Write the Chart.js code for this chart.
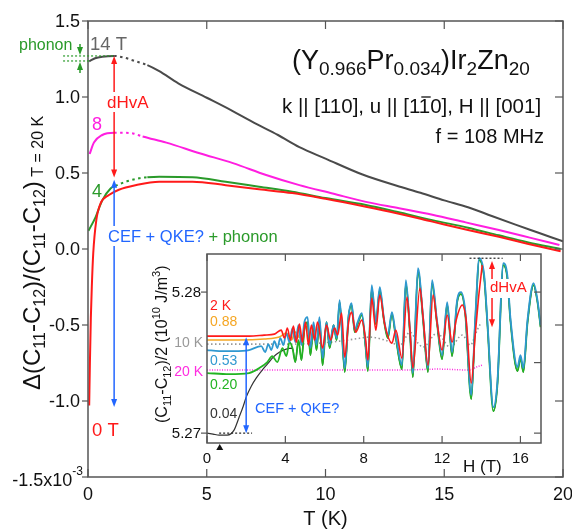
<!DOCTYPE html>
<html>
<head>
<meta charset="utf-8">
<script src="https://cdn.jsdelivr.net/npm/chart.js@4.4.0/dist/chart.umd.min.js"></script>
<style>
  html, body { margin: 0; padding: 0; background: #fff; }
  #wrap { position: relative; width: 572px; height: 531px; }
  #main { position: absolute; left: 0; top: 0; }
  #inset { position: absolute; left: 140px; top: 244px; }
</style>
</head>
<body>
<div id="wrap">
  <canvas id="main" width="572" height="531"></canvas>
  <canvas id="inset" width="420" height="232"></canvas>
</div>
<script>
const FONT = '"Liberation Sans", Arial, sans-serif';
const AXIS = '#555';

// ---- main panel: T (K) vs Delta(C11-C12)/(C11-C12), units 1e-3
const mainXTicks = [0, 5, 10, 15, 20];
const mainYTicks = [-1.5, -1.0, -0.5, 0.0, 0.5, 1.0, 1.5];
const mainYLabels = ['', '-1.0', '-0.5', '0.0', '0.5', '1.0', '1.5']; // -1.5 gets the x10^-3 label

const t0T = [0.05, 0.08, 0.12, 0.16, 0.22, 0.35, 0.53, 0.88, 1.3, 2.0, 3.0, 4.4, 5.8, 7.2, 8.6, 10, 11.7, 13, 14.5, 16, 17.3, 18.5, 19.9];
const v0T = [-1.03, -0.75, -0.45, -0.25, -0.03, 0.19, 0.30, 0.355, 0.39, 0.42, 0.443, 0.443, 0.42, 0.393, 0.368, 0.33, 0.278, 0.235, 0.18, 0.125, 0.08, 0.035, -0.015];

const t4T = [0.02, 0.32, 0.6, 0.96, 1.15, 1.6, 2.15, 2.5, 3.0, 4.4, 5.8, 7.2, 8.6, 10, 11.7, 13, 14.5, 16, 17.3, 18.5, 19.9];
const v4T = [0.12, 0.21, 0.32, 0.40, 0.415, 0.443, 0.465, 0.472, 0.476, 0.472, 0.443, 0.41, 0.377, 0.335, 0.29, 0.245, 0.19, 0.14, 0.09, 0.045, 0.0];

const t8T = [0.07, 0.25, 0.6, 1.1, 1.5, 1.9, 2.3, 3.3, 4.7, 6.1, 7.5, 8.9, 10.3, 11.7, 13.1, 14.5, 15.9, 17.3, 18.6, 19.85];
const v8T = [0.625, 0.70, 0.75, 0.765, 0.765, 0.76, 0.74, 0.70, 0.63, 0.565, 0.487, 0.42, 0.365, 0.31, 0.268, 0.225, 0.175, 0.125, 0.075, 0.026];

const t14T = [0.05, 0.3, 0.6, 1.1, 1.5, 2.0, 2.5, 3.0, 3.8, 5, 6, 7, 8, 8.9, 10, 11.56, 13, 14, 15, 16, 17, 18, 19, 20];
const v14T = [1.235, 1.255, 1.265, 1.27, 1.26, 1.235, 1.21, 1.17, 1.09, 0.995, 0.915, 0.83, 0.75, 0.67, 0.595, 0.49, 0.416, 0.37, 0.32, 0.275, 0.217, 0.16, 0.105, 0.05];

// ---- inset: H (T) vs (C11-C12)/2 (1e10 J/m^3)
const insetXTicks = [0, 4, 8, 12, 16];
const insetYTicks = [5.27, 5.275, 5.28];
const insetYLabels = ['5.27', '', '5.28'];

// 2 K
const h2K = [0, 1.13, 2.15, 2.92, 3.44, 3.79, 3.95, 4.10, 4.26, 4.41, 4.56, 4.72, 4.87, 5.03, 5.18, 5.33, 5.49, 5.64, 5.9, 6.1, 6.31, 6.51, 6.67, 6.87, 7.03, 7.23, 7.38, 7.59, 7.9, 8.1, 8.21, 8.41, 8.62, 8.82, 9.08, 9.44, 9.64, 9.95, 10.21, 10.36, 10.51, 10.87, 11.03, 11.28, 11.54, 11.74, 12.0, 12.26, 12.51, 12.72, 13.03, 13.23, 13.49, 13.69, 13.85, 14.05];
const c2K = [5.27688, 5.27688, 5.27688, 5.27695, 5.27702, 5.27730, 5.27674, 5.27745, 5.27660, 5.27759, 5.27645, 5.27773, 5.27645, 5.27787, 5.27624, 5.27766, 5.27660, 5.27787, 5.27603, 5.27766, 5.27660, 5.27745, 5.27695, 5.27851, 5.27539, 5.27787, 5.27858, 5.27716, 5.27801, 5.27660, 5.27518, 5.27957, 5.27730, 5.27979, 5.27766, 5.27638, 5.27730, 5.27532, 5.27965, 5.27730, 5.27461, 5.28028, 5.27823, 5.27482, 5.27979, 5.27787, 5.27589, 5.27837, 5.27645, 5.27801, 5.27908, 5.27801, 5.27355, 5.27695, 5.27943, 5.28191];

// 0.88 K (low field only, hidden under the others above ~5 T)
const h088 = [0, 1.64, 2.92, 3.69, 4.05, 4.31, 4.51, 4.72];
const c088 = [5.27660, 5.27660, 5.27667, 5.27681, 5.27709, 5.27660, 5.27716, 5.27674];

// 10 K
const h10K = [0, 2.15, 4.21, 5.74, 6.77, 7.54, 8.31, 9.08, 9.85, 10.36, 10.77, 11.03, 11.74, 12.41, 13.03, 13.44, 13.79, 14.0];
const c10K = [5.27631, 5.27631, 5.27631, 5.27638, 5.27652, 5.27667, 5.27681, 5.27660, 5.27624, 5.27716, 5.27638, 5.27610, 5.27709, 5.27610, 5.27695, 5.27624, 5.27730, 5.27787];

// 20 K
const h20K = [0, 4.6, 9.85, 11.8, 13.44, 13.74, 14.05];
const c20K = [5.27447, 5.27447, 5.27447, 5.27454, 5.27447, 5.27468, 5.27482];

// low-field parts of the coldest curves
const h053Low = [0, 0.62, 1.38, 2.15, 2.77, 2.97, 3.13, 3.28, 3.44, 3.59, 3.74, 3.9, 4.05, 4.21];
const c053Low = [5.27589, 5.27582, 5.27582, 5.27589, 5.27617, 5.27574, 5.27631, 5.27589, 5.27652, 5.27603, 5.27674, 5.27624, 5.27709, 5.27645];
const h020Low = [0, 1.13, 2.15, 2.67, 3.08, 3.33, 3.59, 3.85, 4.05, 4.21];
const c020Low = [5.27426, 5.27418, 5.27426, 5.27461, 5.27504, 5.27546, 5.27504, 5.27603, 5.27546, 5.27645];
const h004Low = [0, 0.31, 0.62, 1.03, 1.38, 1.64, 1.85, 2.0, 2.26, 2.51, 2.82, 3.08, 3.38, 3.69];
const c004Low = [5.27000, 5.26993, 5.26986, 5.26986, 5.27021, 5.27113, 5.27191, 5.27255, 5.27333, 5.27390, 5.27447, 5.27489, 5.27539, 5.27574];

// high-field dHvA part shared by 0.53, 0.20, 0.04 K
const hHigh = [4.36, 4.51, 4.67, 4.82, 4.97, 5.13, 5.28, 5.44, 5.59, 5.74, 5.9, 6.1, 6.26, 6.46, 6.62, 6.77, 7.03, 7.23, 7.38, 7.54, 7.69, 7.9, 8.1, 8.21, 8.41, 8.62, 8.82, 9.03, 9.23, 9.44, 9.64, 9.95, 10.15, 10.36, 10.51, 10.77, 11.03, 11.28, 11.49, 11.74, 12.0, 12.26, 12.51, 12.77, 12.97, 13.18, 13.49, 13.69, 13.9, 14.15, 14.31, 14.62, 14.82, 15.13, 15.33, 15.49, 15.85, 16.0, 16.15, 16.36, 16.67, 16.87, 17.03];
const c053High = [5.27745, 5.27645, 5.27766, 5.27624, 5.27787, 5.27823, 5.27603, 5.27787, 5.27624, 5.27823, 5.27532, 5.27787, 5.27624, 5.27766, 5.27674, 5.27943, 5.27461, 5.27837, 5.27922, 5.27730, 5.27787, 5.27851, 5.27624, 5.27468, 5.28050, 5.27787, 5.28035, 5.27816, 5.27695, 5.27858, 5.27695, 5.27482, 5.28085, 5.27730, 5.27426, 5.28170, 5.27823, 5.27461, 5.28085, 5.27801, 5.27553, 5.27929, 5.27574, 5.27943, 5.28000, 5.27872, 5.27270, 5.27801, 5.28241, 5.28121, 5.27801, 5.27184, 5.27355, 5.28206, 5.28121, 5.27816, 5.27468, 5.27553, 5.27461, 5.27801, 5.28064, 5.27943, 5.27766];
const c020High = [5.27603, 5.27504, 5.27660, 5.27518, 5.27730, 5.27787, 5.27553, 5.27766, 5.27589, 5.27801, 5.27482, 5.27787, 5.27603, 5.27766, 5.27660, 5.27929, 5.27433, 5.27830, 5.27908, 5.27716, 5.27773, 5.27837, 5.27603, 5.27440, 5.28028, 5.27773, 5.28014, 5.27801, 5.27674, 5.27844, 5.27674, 5.27454, 5.28064, 5.27709, 5.27397, 5.28149, 5.27801, 5.27433, 5.28064, 5.27780, 5.27525, 5.27915, 5.27546, 5.27929, 5.27986, 5.27851, 5.27241, 5.27780, 5.28227, 5.28099, 5.27780, 5.27156, 5.27333, 5.28191, 5.28099, 5.27794, 5.27440, 5.27532, 5.27433, 5.27780, 5.28050, 5.27929, 5.27752];

function pts(xs, ys) { return xs.map((x, i) => ({ x: x, y: ys[i] })); }

function dottedBetween(a, b, dash) {
  return { borderDash: ctx => (ctx.p0.parsed.x >= a - 1e-9 && ctx.p1.parsed.x <= b + 1e-9) ? dash : undefined };
}

function seg(ctx, x1, y1, x2, y2) {
  ctx.beginPath(); ctx.moveTo(x1, y1); ctx.lineTo(x2, y2); ctx.stroke();
}

// tip at (x, y); dir -1 points up, +1 points down
function head(ctx, x, y, dir, color) {
  ctx.fillStyle = color;
  ctx.beginPath();
  ctx.moveTo(x, y);
  ctx.lineTo(x - 3, y - dir * 8);
  ctx.lineTo(x + 3, y - dir * 8);
  ctx.closePath();
  ctx.fill();
}

function vArrow(ctx, x, yTop, yBot, color, up, down) {
  ctx.strokeStyle = color; ctx.lineWidth = 1.5; ctx.setLineDash([]);
  seg(ctx, x, yTop + (up ? 4 : 0), x, yBot - (down ? 4 : 0));
  if (up) head(ctx, x, yTop, -1, color);
  if (down) head(ctx, x, yBot, 1, color);
}

// parts: [text, size, dy, color]
function rich(ctx, parts, x, y, align) {
  let w = 0;
  parts.forEach(p => { ctx.font = p[1] + 'px ' + FONT; w += ctx.measureText(p[0]).width; });
  let cx = align === 'right' ? x - w : (align === 'center' ? x - w / 2 : x);
  ctx.textAlign = 'left'; ctx.textBaseline = 'alphabetic';
  parts.forEach(p => {
    ctx.font = p[1] + 'px ' + FONT;
    if (p[3]) ctx.fillStyle = p[3];
    ctx.fillText(p[0], cx, y + (p[2] || 0));
    cx += ctx.measureText(p[0]).width;
  });
  return w;
}

function text(ctx, s, x, y, size, color, align) {
  ctx.font = size + 'px ' + FONT;
  ctx.fillStyle = color;
  ctx.textAlign = align || 'left';
  ctx.textBaseline = 'alphabetic';
  ctx.fillText(s, x, y);
}

const mainDecor = {
  id: 'mainDecor',
  afterDraw(chart) {
    const { ctx, chartArea: a, scales: { x, y } } = chart;
    const X = v => x.getPixelForValue(v), Y = v => y.getPixelForValue(v);
    ctx.save();

    // frame and ticks
    ctx.strokeStyle = AXIS; ctx.lineWidth = 1.5;
    ctx.strokeRect(a.left, a.top, a.right - a.left, a.bottom - a.top);
    ctx.lineWidth = 1.2;
    mainXTicks.forEach(v => {
      seg(ctx, X(v), a.bottom, X(v), a.bottom - 8);
      seg(ctx, X(v), a.top, X(v), a.top + 8);
    });
    mainYTicks.forEach(v => {
      seg(ctx, a.left - 6, Y(v), a.left, Y(v));
      seg(ctx, a.right, Y(v), a.right - 8, Y(v));
    });

    // tick labels
    ctx.fillStyle = '#111';
    ctx.font = '18px ' + FONT; ctx.textAlign = 'center'; ctx.textBaseline = 'alphabetic';
    mainXTicks.forEach(v => ctx.fillText(String(v), X(v), a.bottom + 23));
    ctx.textAlign = 'right';
    mainYTicks.forEach((v, i) => { if (mainYLabels[i]) ctx.fillText(mainYLabels[i], a.left - 8, Y(v) + 6); });
    ctx.fillStyle = '#111';
    rich(ctx, [['-1.5x10', 18], ['-3', 12, -11]], a.left - 5, Y(-1.5) + 9, 'right');

    // axis titles
    text(ctx, 'T (K)', X(10), 525, 20, '#111', 'center');
    ctx.save();
    ctx.translate(40, 390);
    ctx.rotate(-Math.PI / 2);
    ctx.fillStyle = '#111';
    rich(ctx, [['\u0394(C', 24], ['11', 16, 5], ['-C', 24], ['12', 16, 5], [')/(C', 24], ['11', 16, 5],
               ['-C', 24], ['12', 16, 5], [')', 24], [' T = 20 K', 16, 3]], 0, 0, 'left');
    ctx.restore();

    // phonon marks
    ctx.strokeStyle = '#2a9a2a'; ctx.lineWidth = 1.2; ctx.setLineDash([2, 2]);
    seg(ctx, X(-1.05), Y(1.27), X(1.1), Y(1.27));
    seg(ctx, X(-1.05), Y(1.237), X(0.05), Y(1.237));
    ctx.setLineDash([]);
    vArrow(ctx, 80, 44, Y(1.27) - 1, '#2a9a2a', false, true);
    vArrow(ctx, 80, Y(1.237) + 1, 73, '#2a9a2a', true, false);

    // dHvA and CEF arrows
    vArrow(ctx, X(1.1), Y(1.27), Y(0.47), '#ff1a1a', true, true);
    vArrow(ctx, X(1.1), Y(0.455), Y(-1.04), '#2266ff', true, true);

    // labels
    ctx.fillStyle = '#fff';
    ctx.fillRect(101, 92, 49, 20);
    text(ctx, 'dHvA', 107, 108, 17, '#ff1a1a');
    ctx.fillStyle = '#fff';
    ctx.fillRect(104, 226, 176, 20);
    rich(ctx, [['CEF + QKE?', 16.5, 0, '#2266ff'], [' + phonon', 16.5, 0, '#2a9a2a']], 108, 242, 'left');

    text(ctx, 'phonon', 19, 50, 16, '#2a9a2a');
    text(ctx, '14 T', 90, 50, 18.5, '#666');
    text(ctx, '8', 92, 130, 18, '#ff1ee0');
    text(ctx, '4', 92, 197, 18, '#2a9a2a');
    text(ctx, '0 T', 92, 436, 18.5, '#ff1a1a');

    // sample and geometry
    ctx.fillStyle = '#111';
    rich(ctx, [['(Y', 27], ['0.966', 19, 6], ['Pr', 27], ['0.034', 19, 6], [')Ir', 27], ['2', 19, 6], ['Zn', 27], ['20', 19, 6]], 292, 69, 'left');
    const kLine = 'k || [110], u || [110], H || [001]';
    text(ctx, kLine, 282, 113, 20.5, '#111');
    ctx.font = '20.5px ' + FONT;
    const bx = 282 + ctx.measureText('k || [110], u || [1').width;
    const bw = ctx.measureText('1').width;
    ctx.strokeStyle = '#111'; ctx.lineWidth = 1.3;
    seg(ctx, bx + 1, 97, bx + bw - 1, 97);
    text(ctx, 'f = 108 MHz', 544, 143, 20, '#111', 'right');

    ctx.restore();
  }
};

const mainChart = new Chart(document.getElementById('main'), {
  type: 'scatter',
  data: {
    datasets: [
      { data: pts(t0T, v0T), borderColor: '#ff1a1a' },
      { data: pts(t4T, v4T), borderColor: '#2a9a2a', segment: dottedBetween(1.15, 2.5, [2.5, 3.5]) },
      { data: pts(t8T, v8T), borderColor: '#ff1ee0', segment: dottedBetween(1.1, 2.3, [2.5, 3.5]) },
      { data: pts(t14T, v14T), borderColor: '#4a4a4a', segment: dottedBetween(1.1, 2.5, [2.5, 3.5]) }
    ].map(d => Object.assign({ showLine: true, borderWidth: 2, pointRadius: 0, cubicInterpolationMode: 'monotone' }, d))
  },
  options: {
    responsive: false,
    animation: false,
    devicePixelRatio: 1,
    layout: { padding: { left: 0, top: 21, right: 9, bottom: 0 } },
    plugins: { legend: { display: false }, tooltip: { enabled: false } },
    scales: {
      x: {
        type: 'linear', min: 0, max: 20,
        grid: { display: false, drawTicks: false }, border: { display: false }, ticks: { display: false },
        afterBuildTicks: s => { s.ticks = mainXTicks.map(v => ({ value: v })); },
        afterFit: s => { s.height = 54; s.paddingLeft = 0; s.paddingRight = 0; }
      },
      y: {
        type: 'linear', min: -1.5, max: 1.5,
        grid: { display: false, drawTicks: false }, border: { display: false }, ticks: { display: false },
        afterBuildTicks: s => { s.ticks = mainYTicks.map(v => ({ value: v })); },
        afterFit: s => { s.width = 88; s.paddingTop = 0; s.paddingBottom = 0; }
      }
    }
  },
  plugins: [mainDecor]
});

const insetDecor = {
  id: 'insetDecor',
  beforeDraw(chart) {
    const { ctx, chartArea: a } = chart;
    ctx.save();
    ctx.fillStyle = '#fff';
    ctx.fillRect(a.left, a.top, a.right - a.left, a.bottom - a.top);
    ctx.restore();
  },
  afterDraw(chart) {
    const { ctx, chartArea: a, scales: { x, y } } = chart;
    const X = v => x.getPixelForValue(v), Y = v => y.getPixelForValue(v);
    ctx.save();

    ctx.strokeStyle = AXIS; ctx.lineWidth = 1.5;
    ctx.strokeRect(a.left, a.top, a.right - a.left, a.bottom - a.top);
    ctx.lineWidth = 1.2;
    insetXTicks.forEach(v => {
      seg(ctx, X(v), a.bottom, X(v), a.bottom - 7);
      seg(ctx, X(v), a.top, X(v), a.top + 7);
    });
    insetYTicks.forEach((v, i) => {
      if (insetYLabels[i]) seg(ctx, a.left - 6, Y(v), a.left, Y(v));
      seg(ctx, a.right, Y(v), a.right - 7, Y(v));
    });

    ctx.fillStyle = '#111';
    ctx.font = '15px ' + FONT; ctx.textAlign = 'center'; ctx.textBaseline = 'alphabetic';
    insetXTicks.forEach(v => ctx.fillText(String(v), X(v), a.bottom + 20));
    ctx.textAlign = 'right';
    insetYTicks.forEach((v, i) => { if (insetYLabels[i]) ctx.fillText(insetYLabels[i], a.left - 6, Y(v) + 5); });
    text(ctx, 'H (T)', 323, 228, 17, '#111');

    ctx.save();
    ctx.translate(27, 179);
    ctx.rotate(-Math.PI / 2);
    ctx.fillStyle = '#111';
    rich(ctx, [['(C', 16], ['11', 11, 4], ['-C', 16], ['12', 11, 4], [')/2 (10', 16], ['10', 11, -7],
               [' J/m', 16], ['3', 11, -7], [')', 16]], 0, 0, 'left');
    ctx.restore();

    // temperature labels
    text(ctx, '2 K', 70, 66, 14, '#ff1a1a');
    text(ctx, '0.88', 70, 82, 14, '#f5a623');
    text(ctx, '10 K', 63, 103, 14, '#999', 'right');
    text(ctx, '0.53', 70, 121, 14, '#2f98d0');
    text(ctx, '20 K', 63, 132, 14, '#ff2ee0', 'right');
    text(ctx, '0.20', 70, 145, 14, '#22b422');
    text(ctx, '0.04', 70, 174, 14, '#333');

    // reference lines and arrows
    ctx.strokeStyle = '#222'; ctx.lineWidth = 1.2; ctx.setLineDash([2, 2]);
    seg(ctx, X(0.62), Y(5.27), X(2.3), Y(5.27));
    seg(ctx, X(13.4), Y(5.2824), X(15.1), Y(5.2824));
    ctx.setLineDash([]);
    vArrow(ctx, X(2.0), Y(5.2768), Y(5.27), '#2266ff', true, true);
    vArrow(ctx, X(14.55), Y(5.2822), Y(5.2775), '#ff1a1a', true, true);
    ctx.fillStyle = '#fff';
    ctx.fillRect(348, 35, 40, 19);
    text(ctx, 'dHvA', 350, 48, 15, '#ff1a1a');
    text(ctx, 'CEF + QKE?', 115, 169, 14.5, '#2266ff');

    // field marker under the axis
    ctx.fillStyle = '#111';
    ctx.beginPath();
    ctx.moveTo(X(0.65), a.bottom + 1);
    ctx.lineTo(X(0.65) - 3.5, a.bottom + 7);
    ctx.lineTo(X(0.65) + 3.5, a.bottom + 7);
    ctx.closePath();
    ctx.fill();

    ctx.restore();
  }
};

const insetChart = new Chart(document.getElementById('inset'), {
  type: 'scatter',
  data: {
    datasets: [
      { data: pts(h2K, c2K), borderColor: '#ff1a1a', borderWidth: 1.6 },
      { data: pts(h053Low.concat(hHigh), c053Low.concat(c053High)), borderColor: '#2f98d0', borderWidth: 1.8 },
      { data: pts(h088, c088), borderColor: '#f5a623', borderWidth: 1.6 },
      { data: pts(h020Low.concat(hHigh), c020Low.concat(c020High)), borderColor: '#22b422', borderWidth: 1.8 },
      { data: pts(h004Low.concat(hHigh), c004Low.concat(c020High)), borderColor: '#333', borderWidth: 1.2 },
      { data: pts(h10K, c10K), borderColor: '#999', borderWidth: 1.6, borderDash: [1.5, 2.5] },
      { data: pts(h20K, c20K), borderColor: '#ff2ee0', borderWidth: 1.5, borderDash: [1, 1.5] }
    ].map(d => Object.assign({ showLine: true, pointRadius: 0, cubicInterpolationMode: 'monotone' }, d))
  },
  options: {
    responsive: false,
    animation: false,
    devicePixelRatio: 1,
    layout: { padding: { left: 0, top: 10, right: 19, bottom: 0 } },
    plugins: { legend: { display: false }, tooltip: { enabled: false } },
    scales: {
      x: {
        type: 'linear', min: 0, max: 17.05,
        grid: { display: false, drawTicks: false }, border: { display: false }, ticks: { display: false },
        afterBuildTicks: s => { s.ticks = insetXTicks.map(v => ({ value: v })); },
        afterFit: s => { s.height = 33; s.paddingLeft = 0; s.paddingRight = 0; }
      },
      y: {
        type: 'linear', min: 5.2693, max: 5.2827,
        grid: { display: false, drawTicks: false }, border: { display: false }, ticks: { display: false },
        afterBuildTicks: s => { s.ticks = insetYTicks.map(v => ({ value: v })); },
        afterFit: s => { s.width = 67; s.paddingTop = 0; s.paddingBottom = 0; }
      }
    }
  },
  plugins: [insetDecor]
});
</script>
</body>
</html>
